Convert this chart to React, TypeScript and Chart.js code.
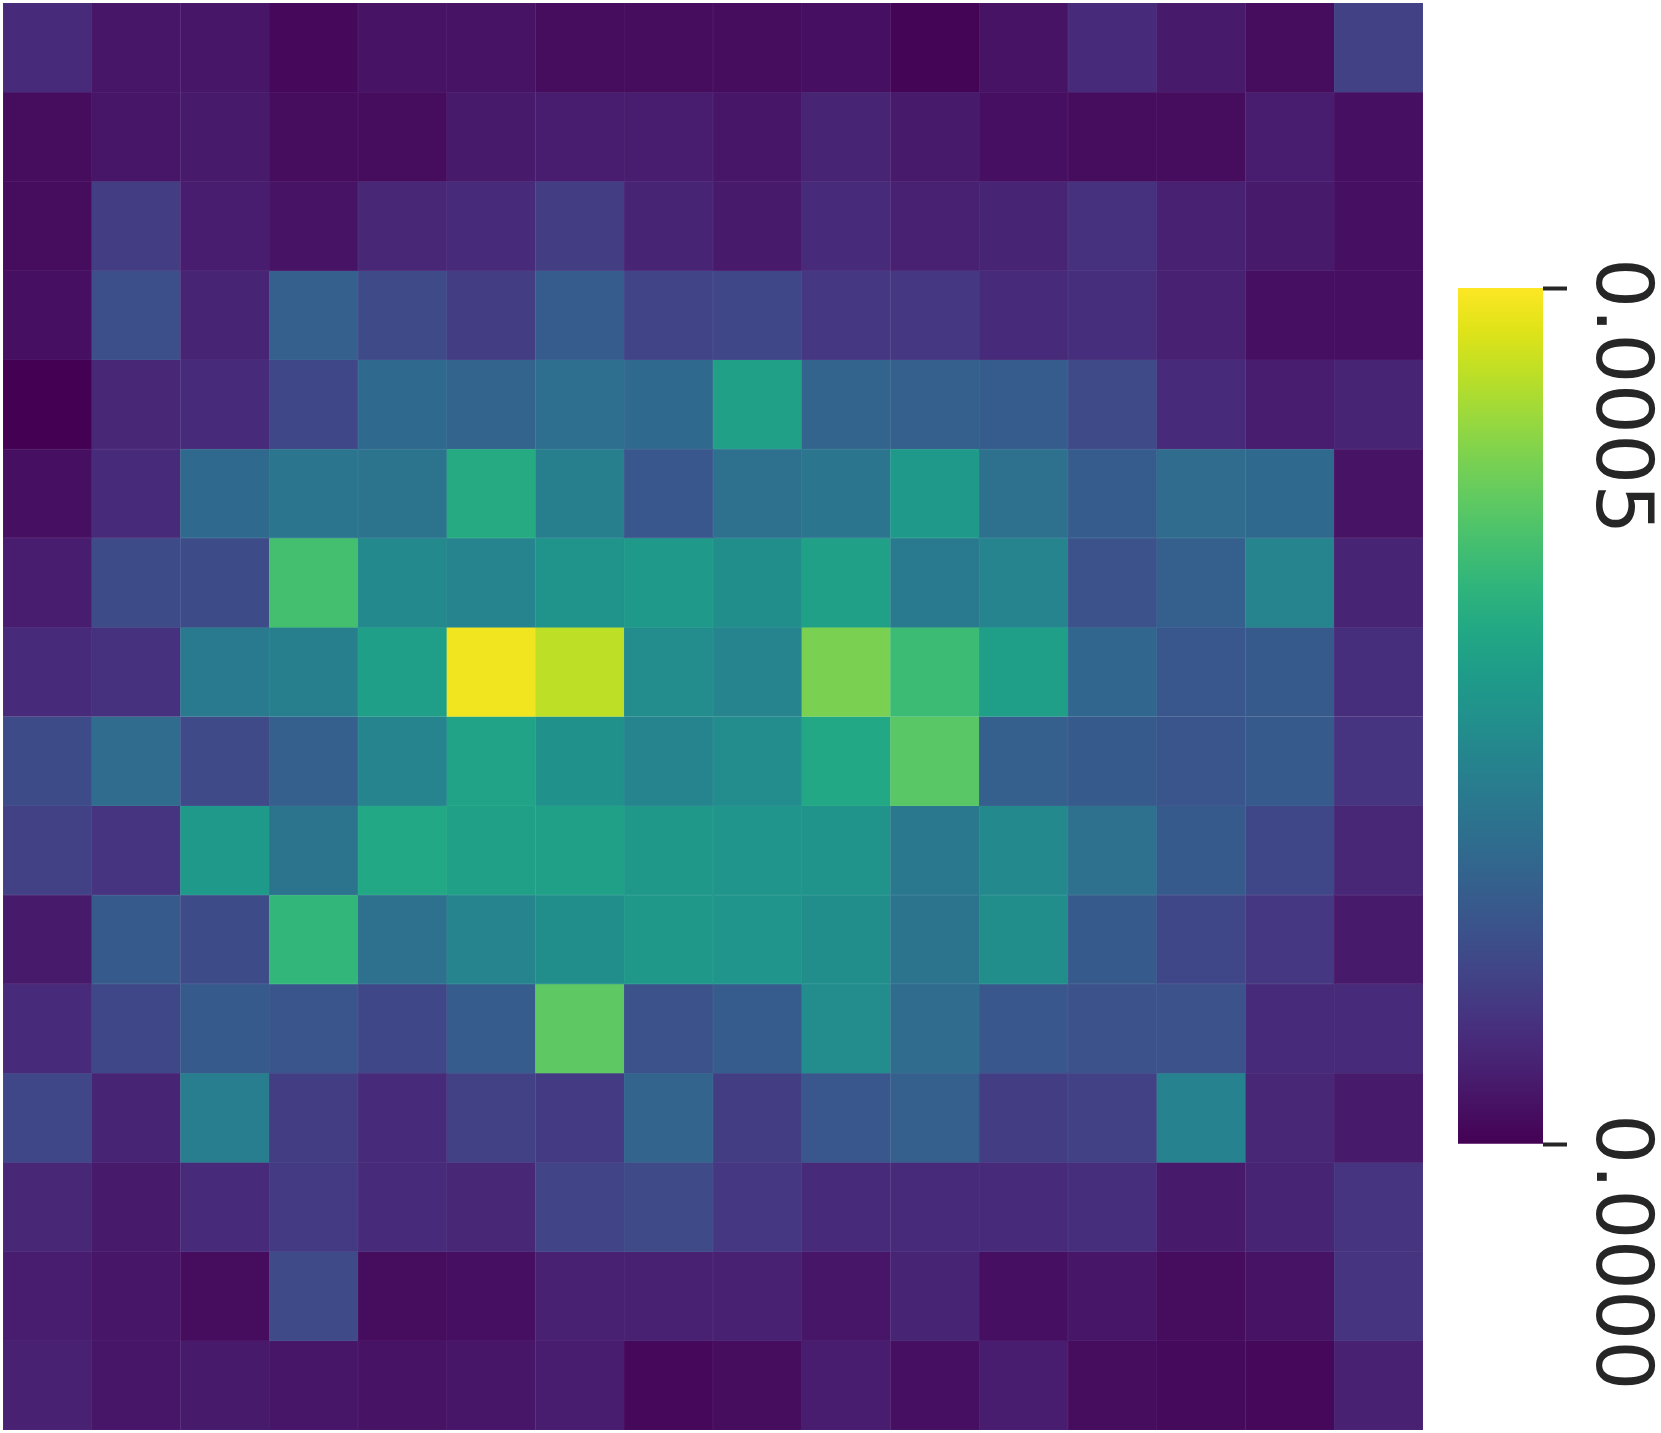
import React, { useEffect, useRef } from "react";
import { Chart, registerables } from "chart.js";

Chart.register(...registerables);

// ---- data ----
const columnLabels = ["0", "1", "2", "3", "4", "5", "6", "7", "8", "9", "10", "11", "12", "13", "14", "15"];

const row00 = [6.0e-5, 3.0e-5, 3.0e-5, 1.0e-5, 2.5e-5, 2.5e-5, 1.5e-5, 1.5e-5, 1.5e-5, 2.0e-5, 0.5e-5, 2.5e-5, 6.0e-5, 3.5e-5, 1.5e-5, 9.5e-5];
const row01 = [1.5e-5, 3.0e-5, 3.5e-5, 1.5e-5, 1.5e-5, 3.5e-5, 4.0e-5, 4.0e-5, 3.0e-5, 5.0e-5, 3.5e-5, 2.0e-5, 1.5e-5, 1.5e-5, 4.0e-5, 2.0e-5];
const row02 = [1.5e-5, 9.0e-5, 4.0e-5, 2.5e-5, 5.5e-5, 6.0e-5, 9.0e-5, 5.0e-5, 3.5e-5, 6.0e-5, 4.5e-5, 5.0e-5, 7.0e-5, 4.5e-5, 3.5e-5, 2.0e-5];
const row03 = [2.0e-5, 12.0e-5, 5.0e-5, 15.0e-5, 11.0e-5, 9.0e-5, 14.5e-5, 10.0e-5, 10.5e-5, 8.0e-5, 8.0e-5, 6.0e-5, 6.5e-5, 4.5e-5, 2.0e-5, 2.0e-5];
const row04 = [0.0, 5.5e-5, 6.0e-5, 10.5e-5, 17.0e-5, 16.0e-5, 18.0e-5, 17.0e-5, 28.5e-5, 16.0e-5, 15.0e-5, 14.5e-5, 11.0e-5, 6.0e-5, 4.0e-5, 5.0e-5];
const row05 = [2.0e-5, 6.0e-5, 17.0e-5, 19.5e-5, 19.0e-5, 30.5e-5, 21.5e-5, 13.5e-5, 18.5e-5, 19.5e-5, 27.0e-5, 18.5e-5, 14.5e-5, 17.5e-5, 17.0e-5, 2.5e-5];
const row06 = [4.0e-5, 11.5e-5, 11.5e-5, 35.0e-5, 23.5e-5, 22.5e-5, 25.5e-5, 27.0e-5, 24.5e-5, 28.5e-5, 20.5e-5, 22.5e-5, 12.5e-5, 15.0e-5, 22.5e-5, 5.0e-5];
const row07 = [6.0e-5, 7.0e-5, 20.5e-5, 21.5e-5, 28.0e-5, 49.0e-5, 45.0e-5, 24.0e-5, 22.5e-5, 40.0e-5, 34.0e-5, 28.0e-5, 16.5e-5, 13.5e-5, 14.0e-5, 6.5e-5];
const row08 = [11.5e-5, 17.5e-5, 11.0e-5, 15.0e-5, 22.5e-5, 29.0e-5, 25.0e-5, 22.5e-5, 24.0e-5, 30.0e-5, 37.0e-5, 15.0e-5, 14.0e-5, 13.0e-5, 14.0e-5, 7.5e-5];
const row09 = [9.5e-5, 7.5e-5, 27.0e-5, 19.0e-5, 30.0e-5, 28.5e-5, 28.5e-5, 26.5e-5, 26.0e-5, 25.5e-5, 20.0e-5, 23.5e-5, 18.5e-5, 14.0e-5, 10.5e-5, 5.5e-5];
const row10 = [3.5e-5, 14.0e-5, 11.5e-5, 33.0e-5, 18.5e-5, 22.5e-5, 24.5e-5, 26.5e-5, 26.0e-5, 24.5e-5, 19.0e-5, 24.5e-5, 14.0e-5, 10.5e-5, 8.0e-5, 3.5e-5];
const row11 = [6.0e-5, 10.5e-5, 14.0e-5, 13.0e-5, 10.5e-5, 14.5e-5, 37.5e-5, 12.5e-5, 14.5e-5, 24.0e-5, 17.5e-5, 13.5e-5, 12.5e-5, 12.5e-5, 6.0e-5, 6.0e-5];
const row12 = [10.5e-5, 5.0e-5, 21.0e-5, 9.0e-5, 6.0e-5, 9.5e-5, 8.5e-5, 16.0e-5, 9.0e-5, 13.5e-5, 15.0e-5, 9.0e-5, 9.5e-5, 22.0e-5, 5.5e-5, 3.5e-5];
const row13 = [5.5e-5, 3.5e-5, 6.0e-5, 8.5e-5, 6.0e-5, 5.5e-5, 10.0e-5, 11.0e-5, 8.0e-5, 6.0e-5, 6.0e-5, 6.0e-5, 6.5e-5, 3.5e-5, 5.0e-5, 7.5e-5];
const row14 = [4.0e-5, 3.0e-5, 1.5e-5, 11.0e-5, 1.5e-5, 2.0e-5, 4.5e-5, 4.5e-5, 4.5e-5, 3.0e-5, 5.0e-5, 2.0e-5, 3.0e-5, 1.5e-5, 2.5e-5, 7.5e-5];
const row15 = [4.5e-5, 3.0e-5, 3.5e-5, 3.0e-5, 2.5e-5, 3.0e-5, 4.0e-5, 1.0e-5, 1.5e-5, 4.0e-5, 2.0e-5, 4.0e-5, 1.5e-5, 1.2e-5, 1.0e-5, 4.5e-5];

const heatRows = [row00, row01, row02, row03, row04, row05, row06, row07, row08, row09, row10, row11, row12, row13, row14, row15];

const vmin = 0;
const vmax = 0.0005;
const colorbarTicks = [0, 0.0005];
const colorbarTickLabels = ["0.0000", "0.0005"];

// ---- viridis colormap ----
const VIRIDIS: number[][] = [
  [68, 1, 84], [71, 19, 101], [72, 36, 117], [70, 52, 128], [65, 68, 135],
  [59, 82, 139], [53, 95, 141], [47, 108, 142], [42, 120, 142], [37, 132, 142],
  [33, 145, 140], [30, 156, 137], [34, 168, 132], [47, 180, 124], [68, 191, 112],
  [94, 201, 98], [122, 209, 81], [155, 217, 60], [189, 223, 38], [223, 227, 24],
  [253, 231, 37],
];

function viridisRGB(t: number): number[] {
  const c = Math.max(0, Math.min(1, t)) * (VIRIDIS.length - 1);
  const i = Math.min(Math.floor(c), VIRIDIS.length - 2);
  const f = c - i;
  const a = VIRIDIS[i];
  const b = VIRIDIS[i + 1];
  return [0, 1, 2].map((k) => a[k] + (b[k] - a[k]) * f);
}

function rgbStr(c: number[]): string {
  return `rgb(${Math.round(c[0])},${Math.round(c[1])},${Math.round(c[2])})`;
}

function cellColor(v: number): string {
  return rgbStr(viridisRGB((v - vmin) / (vmax - vmin)));
}

function cellEdgeColor(v: number): string {
  const c = viridisRGB((v - vmin) / (vmax - vmin));
  return rgbStr(c.map((x) => x + (255 - x) * 0.07));
}

const labelPlugin = {
  id: "rotatedColorbarLabels",
  afterDraw(chart: any) {
    const s = chart.scales.y;
    const ctx = chart.ctx;
    ctx.save();
    ctx.fillStyle = "#262626";
    ctx.font = '79px "DejaVu Sans"';
    ctx.textBaseline = "alphabetic";
    ctx.textAlign = "left";
    colorbarTicks.forEach((v, i) => {
      const y = s.getPixelForValue(v);
      ctx.save();
      ctx.translate(s.left + 54, y - 30);
      ctx.rotate(Math.PI / 2);
      ctx.fillText(colorbarTickLabels[i], 0, 0);
      ctx.restore();
    });
    ctx.restore();
  },
};

export default function App() {
  const heatRef = useRef<HTMLCanvasElement>(null);
  const barRef = useRef<HTMLCanvasElement>(null);

  useEffect(() => {
    const heat = new Chart(heatRef.current as HTMLCanvasElement, {
      type: "bar",
      data: {
        labels: columnLabels,
        datasets: heatRows.map((row, r) => ({
          label: `row ${r}`,
          data: row.map(() => 1),
          backgroundColor: row.map((v) => cellColor(v)),
          borderColor: row.map((v) => cellEdgeColor(v)),
          borderWidth: 0.6,
          borderSkipped: false,
          categoryPercentage: 1,
          barPercentage: 1,
        })),
      },
      options: {
        animation: false,
        responsive: false,
        devicePixelRatio: 1,
        layout: { padding: 0 },
        plugins: { legend: { display: false }, tooltip: { enabled: false } },
        scales: {
          x: { display: false, stacked: true },
          y: { display: false, stacked: true, reverse: true, min: 0, max: heatRows.length },
        },
      },
    } as any);

    const bar = new Chart(barRef.current as HTMLCanvasElement, {
      type: "bar",
      data: {
        labels: [""],
        datasets: [
          {
            data: [[vmin, vmax]],
            backgroundColor: (c: any) => {
              const area = c.chart.chartArea;
              if (!area) return cellColor((vmin + vmax) / 2);
              const g = c.chart.ctx.createLinearGradient(0, area.bottom, 0, area.top);
              VIRIDIS.forEach((col, i) => g.addColorStop(i / (VIRIDIS.length - 1), rgbStr(col)));
              return g;
            },
            borderWidth: 0,
            categoryPercentage: 1,
            barPercentage: 1,
          },
        ],
      },
      options: {
        animation: false,
        responsive: false,
        devicePixelRatio: 1,
        layout: { padding: { top: 288, bottom: 289, left: 0, right: 0 } },
        plugins: { legend: { display: false }, tooltip: { enabled: false } },
        scales: {
          x: { display: false },
          y: {
            position: "right",
            min: vmin,
            max: vmax,
            afterFit: (s: any) => {
              s.width = 118;
            },
            afterBuildTicks: (s: any) => {
              s.ticks = colorbarTicks.map((v) => ({ value: v }));
            },
            ticks: { display: false },
            grid: {
              display: true,
              drawOnChartArea: false,
              drawTicks: true,
              tickLength: 24,
              tickWidth: 4,
              tickColor: "#262626",
            },
            border: { display: false },
          },
        },
      },
      plugins: [labelPlugin],
    } as any);

    return () => {
      heat.destroy();
      bar.destroy();
    };
  }, []);

  return (
    <div style={{ position: "absolute", left: 0, top: 0, width: 1661, height: 1433, background: "#ffffff", overflow: "hidden" }}>
      <canvas
        ref={heatRef}
        width={1420}
        height={1427}
        style={{ position: "absolute", left: 3, top: 3, width: 1420, height: 1427, display: "block" }}
      />
      <canvas
        ref={barRef}
        width={203}
        height={1433}
        style={{ position: "absolute", left: 1458, top: 0, width: 203, height: 1433, display: "block" }}
      />
    </div>
  );
}
